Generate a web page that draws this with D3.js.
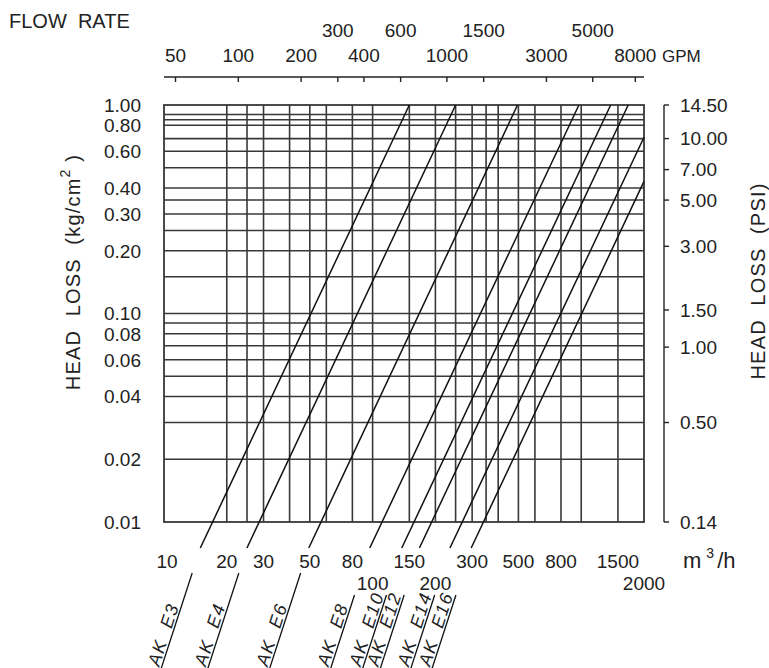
<!DOCTYPE html>
<html>
<head>
<meta charset="utf-8">
<script src="https://cdn.jsdelivr.net/npm/d3@7"></script>
<style>
  html, body { margin: 0; padding: 0; background: #fff; }
  svg { display: block; font-family: "Liberation Sans", Arial, sans-serif; }
</style>
</head>
<body>
<svg id="chart" width="769" height="668"></svg>
<script>
// ---------------- DATA ----------------
const models   = ["AK E3", "AK E4", "AK E6", "AK E8", "AK E10", "AK E12", "AK E14", "AK E16"];
const qAtMin   = [17.1, 28.6, 56.6, 111, 158, 192, 269, 340];     // m3/h at 0.01 kg/cm2
const qAtEnd   = [150, 250, 495, 975, 1385, 1680, 2000, 2000];     // m3/h at end of curve
const hAtEnd   = [1.0, 1.0, 1.0, 1.0, 1.0, 1.0, 0.70, 0.43];       // kg/cm2 at end of curve
const hExt     = 0.0075;                                           // curves run a bit below the chart

const gridQ    = [20, 25, 30, 40, 50, 60, 80, 100, 150, 200, 250, 300, 350, 400, 500, 600, 800, 1000, 1500];
const gridH    = [0.02, 0.03, 0.04, 0.05, 0.06, 0.07, 0.08, 0.09, 0.1, 0.15, 0.2, 0.25, 0.3, 0.35, 0.4, 0.5, 0.6, 0.69, 0.8, 0.85, 0.9];

const kgTicks  = [1.0, 0.8, 0.6, 0.4, 0.3, 0.2, 0.1, 0.08, 0.06, 0.04, 0.02, 0.01];
const psiLabels = ["14.50", "10.00", "7.00", "5.00", "3.00", "1.50", "1.00", "0.50", "0.14"];
const psiAtKg   = [1.0, 0.69, 0.49, 0.35, 0.21, 0.104, 0.069, 0.03, 0.01];

const m3Ticks    = [10, 20, 30, 50, 80, 100, 150, 200, 300, 500, 800, 1500, 2000];
const m3Lower    = [100, 200, 2000];
const gpmTicks   = [50, 100, 200, 300, 400, 600, 1000, 1500, 3000, 5000, 8000];
const gpmUpper   = [300, 600, 1500, 5000];
const GPM_PER_M3H = 4.403;

// ---------------- LAYOUT ----------------
const L = 164, R = 644, T = 105, B = 522;
const svg = d3.select("#chart");
const x = d3.scaleLog().domain([10, 2000]).range([L, R]);
const y = d3.scaleLog().domain([0.01, 1]).range([B, T]);
const xg = d3.scaleLog().domain([10 * GPM_PER_M3H, 2000 * GPM_PER_M3H]).range([L, R]);

const ink = "#222", gridCol = "#383838";
const FS = 19;

// grid
const g = svg.append("g");
g.selectAll("line.v").data(gridQ).join("line")
  .attr("x1", d => x(d)).attr("x2", d => x(d)).attr("y1", T).attr("y2", B)
  .attr("stroke", gridCol).attr("stroke-width", 1.6);
g.selectAll("line.h").data(gridH).join("line")
  .attr("x1", L).attr("x2", R).attr("y1", d => y(d)).attr("y2", d => y(d))
  .attr("stroke", gridCol).attr("stroke-width", 1.6);
g.append("rect").attr("x", L).attr("y", T).attr("width", R - L).attr("height", B - T)
  .attr("fill", "none").attr("stroke", gridCol).attr("stroke-width", 1.8);

// curves
const curves = models.map((m, i) => {
  const n = Math.log10(hAtEnd[i] / 0.01) / Math.log10(qAtEnd[i] / qAtMin[i]);
  const qExt = qAtMin[i] * Math.pow(hExt / 0.01, 1 / n);
  return { m, i, p0: [qExt, hExt], p1: [qAtEnd[i], hAtEnd[i]] };
});
svg.append("g").selectAll("line").data(curves).join("line")
  .attr("x1", d => x(d.p0[0])).attr("y1", d => y(d.p0[1]))
  .attr("x2", d => x(d.p1[0])).attr("y2", d => y(d.p1[1]))
  .attr("stroke", "#111").attr("stroke-width", 1.5);

// leader lines + rotated labels
const ang = 72 * Math.PI / 180;
const cot = Math.cos(ang) / Math.sin(ang);
const labelRow = [0, 0, 0, 1, 1, 1, 1, 1];
const leaderTop = [573, 595];
const lab = svg.append("g");
curves.forEach(d => {
  const x0 = x(d.p0[0]), y0 = y(d.p0[1]);
  const yt = leaderTop[labelRow[d.i]];
  const xt = x0 - (yt - y0) * cot;
  const yb = 700;
  const xb = x0 - (yb - y0) * cot;
  lab.append("line").attr("x1", xt).attr("y1", yt).attr("x2", xb).attr("y2", yb)
    .attr("stroke", "#111").attr("stroke-width", 1.3);
  const ys = 668;
  const xs = x0 - (ys - y0) * cot - 2.2;
  lab.append("text")
    .attr("transform", `translate(${xs},${ys - 0.7}) rotate(-72)`)
    .attr("font-size", 18).attr("font-style", "italic").attr("letter-spacing", 1.5)
    .attr("fill", ink).style("white-space", "pre")
    .text(d.m.replace(" ", "  "));
});

// left tick labels
svg.append("g").selectAll("text").data(kgTicks).join("text")
  .attr("x", 141).attr("y", d => y(d)).attr("dy", "0.36em")
  .attr("text-anchor", "end").attr("font-size", FS).attr("fill", ink)
  .text(d => d.toFixed(2));

// right PSI axis
const RA = 664;
const ra = svg.append("g");
ra.append("line").attr("x1", RA).attr("x2", RA).attr("y1", y(psiAtKg[0])).attr("y2", y(psiAtKg[psiAtKg.length - 1]))
  .attr("stroke", ink).attr("stroke-width", 1.4);
ra.selectAll("line.t").data(psiAtKg).join("line")
  .attr("x1", RA).attr("x2", RA + 5).attr("y1", d => y(d)).attr("y2", d => y(d))
  .attr("stroke", ink).attr("stroke-width", 1.4);
ra.selectAll("text").data(psiLabels).join("text")
  .attr("x", 680).attr("y", (d, i) => y(psiAtKg[i])).attr("dy", "0.36em")
  .attr("font-size", FS).attr("fill", ink).text(d => d);

// top GPM axis
const TA = 77;
const ta = svg.append("g");
ta.append("line").attr("x1", L).attr("x2", R).attr("y1", TA).attr("y2", TA)
  .attr("stroke", ink).attr("stroke-width", 1.4);
ta.selectAll("line.t").data(gpmTicks).join("line")
  .attr("x1", d => xg(d)).attr("x2", d => xg(d)).attr("y1", TA).attr("y2", TA + 5)
  .attr("stroke", ink).attr("stroke-width", 1.4);
ta.selectAll("text").data(gpmTicks).join("text")
  .attr("x", d => xg(d)).attr("y", d => gpmUpper.includes(d) ? 37 : 62)
  .attr("text-anchor", "middle").attr("font-size", FS).attr("fill", ink).text(d => d);
svg.append("text").attr("x", 662).attr("y", 62).attr("font-size", 17).attr("fill", ink).text("GPM");
svg.append("text").attr("x", 9).attr("y", 28).attr("font-size", 20).attr("fill", ink)
  .style("white-space", "pre").text("FLOW  RATE");

// bottom m3/h labels
svg.append("g").selectAll("text").data(m3Ticks).join("text")
  .attr("x", d => x(d) + (d === 10 ? 3 : 0)).attr("y", d => m3Lower.includes(d) ? 590 : 568)
  .attr("text-anchor", "middle").attr("font-size", FS).attr("fill", ink).text(d => d);
const unit = svg.append("text").attr("x", 683).attr("y", 568).attr("font-size", 22).attr("fill", ink);
unit.append("tspan").text("m");
unit.append("tspan").attr("dx", 5).attr("dy", -10).attr("font-size", 14).text("3");
unit.append("tspan").attr("dx", 3).attr("dy", 10).text("/h");

// axis titles
const lt = svg.append("text").attr("transform", "translate(80,272) rotate(-90)")
  .attr("text-anchor", "middle").attr("font-size", 20).attr("letter-spacing", 1.2)
  .attr("fill", ink).style("white-space", "pre");
lt.append("tspan").text("HEAD  LOSS  (kg/cm");
lt.append("tspan").attr("dy", -10).attr("font-size", 14).text("2");
lt.append("tspan").attr("dy", 10).text(" )");
svg.append("text").attr("transform", "translate(765,281) rotate(-90)")
  .attr("text-anchor", "middle").attr("font-size", 20).attr("letter-spacing", 1.2)
  .attr("fill", ink).style("white-space", "pre")
  .text("HEAD  LOSS  (PSI)");
</script>
</body>
</html>
